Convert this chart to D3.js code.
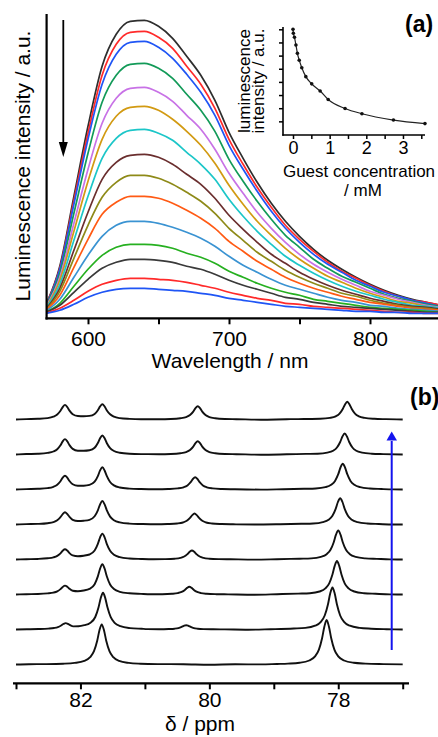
<!DOCTYPE html>
<html>
<head>
<meta charset="utf-8">
<script src="https://cdn.jsdelivr.net/npm/d3@7"></script>
<style>
  html, body { margin: 0; padding: 0; background: #fff; }
  svg { display: block; font-family: "Liberation Sans", Arial, Helvetica, sans-serif; }
</style>
</head>
<body>
<svg id="fig" width="438" height="737"></svg>
<script>
// ---------- (a) luminescence spectra during the guest titration ----------
const wavelengths = [570,580,590,600,610,620,630,640,650,660,670,680,690,700,710,720,730,740,750,760,770,780,790,800,810,820,830,840,850];

const s01 = [13,52,122,192,252,284,297,298,292,280,262,243,218,186,160,136,115,97,82,69,58,49,41,34,28,23,19,16,13];
const s02 = [13,50,118,185,243,274,286,287,281,270,252,234,210,179,154,131,111,93,79,67,56,47,40,33,27,22,18,16,13];
const s03 = [12,49,114,179,234,264,276,277,271,260,244,226,203,173,149,127,107,90,76,64,54,46,38,32,26,22,18,15,12];
const s04 = [12,45,105,165,216,243,254,255,250,240,224,208,187,159,137,117,99,83,71,59,50,42,36,30,24,20,17,14,12];
const s05 = [11,41,95,149,195,220,230,231,226,217,203,189,169,145,125,106,90,76,64,54,46,39,33,27,23,19,16,13,11];
const s06 = [10,38,87,137,179,202,211,212,208,199,187,173,155,133,114,97,83,70,59,50,42,36,30,25,21,17,15,12,10];
const s07 = [10,34,78,122,160,180,188,189,185,178,166,154,139,119,102,87,74,62,53,45,38,32,27,23,19,16,13,12,10];
const s08 = [9,30,68,106,139,156,163,164,161,154,144,134,120,103,89,76,64,55,46,39,33,28,24,20,17,14,12,11,9];
const s09 = [8,27,60,93,121,136,143,143,140,134,126,117,105,90,78,66,57,48,41,35,30,25,22,18,15,13,11,10,8];
const s10 = [8,23,51,79,104,116,122,122,120,115,108,100,90,77,67,57,49,41,35,30,26,22,19,16,14,12,10,9,8];
const s11 = [7,19,41,63,82,93,97,97,95,91,86,80,72,62,53,46,39,33,29,25,21,18,16,13,12,10,9,8,7];
const s12 = [6,15,32,49,63,71,74,74,73,70,65,61,55,47,41,35,30,26,23,19,17,15,13,11,10,9,8,7,6];
const s13 = [6,13,26,39,50,56,59,59,58,56,52,49,44,38,33,29,25,21,19,16,14,12,11,10,9,8,7,6,6];
const s14 = [5,10,18,27,34,38,40,40,39,38,36,33,30,26,23,20,18,15,14,12,11,10,9,8,7,6,6,5,5];
const s15 = [5,8,14,21,26,29,30,30,29,28,27,25,23,20,18,16,14,12,11,10,9,8,7,7,6,6,5,5,5];
const spectra = [s01,s02,s03,s04,s05,s06,s07,s08,s09,s10,s11,s12,s13,s14,s15];

const spectrumColors = ["#2e2e2e","#ff2a2a","#1f55f5","#129a58","#c872e6","#d29a12","#1cc6c8","#6a2e2e",
                        "#8e8a18","#ff5a14","#3a93d2","#26b020","#3a3a3a","#ff2a2a","#1f55f5"];

// inset: luminescence vs. guest concentration
const guestConc      = [0, 0.01, 0.04, 0.08, 0.12, 0.17, 0.24, 0.35, 0.51, 0.74, 0.96, 1.42, 1.88, 2.74, 3.60];
const insetIntensity = [8.0, 7.70, 7.39, 6.81, 6.17, 5.65, 5.08, 4.40, 3.85, 3.31, 2.66, 1.98, 1.58, 1.10, 0.83];

const wavelengthTicks = [600, 650, 700, 750, 800];
const concTicks = [0, 0.5, 1, 1.5, 2, 2.5, 3, 3.5];
const insetYTicks = [1, 2, 3, 4, 5, 6, 7, 8];

// ---------- (b) NMR traces, bottom to top ([ppm, intensity]) ----------
const nmr1 = [[83.00,0],[82.80,0.3],[82.55,0.4],[82.27,0.8],[82.09,1.6],[81.94,3.6],[81.85,7.3],[81.79,13.4],[81.74,23.8],[81.705,34.2],[81.67,40],[81.635,34.2],[81.60,23.8],[81.55,13.4],[81.49,7.3],[81.40,3.6],[81.25,1.6],[81.07,0.8],[80.80,0.4],[80.40,0.3],[80.00,-0.2],[79.60,0.2],[79.20,0.1],[78.95,0.55],[78.78,0.9],[78.60,1.7],[78.45,4.0],[78.36,8.1],[78.30,14.9],[78.25,26.5],[78.215,38.0],[78.18,44.5],[78.145,38.0],[78.11,26.5],[78.06,14.9],[78.00,8.1],[77.91,4.0],[77.76,1.7],[77.58,0.9],[77.30,0.4],[77.00,0.1]];
const nmr2 = [[83.00,0],[82.83,0.2],[82.65,0.45],[82.50,0.9],[82.41,1.5],[82.35,2.4],[82.30,4.0],[82.265,5.5],[82.23,6.4],[82.195,5.7],[82.16,4.3],[82.11,3.1],[82.03,3.2],[81.94,4.3],[81.85,6.5],[81.77,12.5],[81.72,22.0],[81.685,31.5],[81.65,36.8],[81.615,31.4],[81.58,21.9],[81.53,12.3],[81.47,6.7],[81.38,3.3],[81.23,1.4],[81.05,0.7],[80.96,0.4],[80.78,0.3],[80.63,0.5],[80.54,0.8],[80.48,1.4],[80.43,2.6],[80.395,3.7],[80.36,4.3],[80.325,3.7],[80.29,2.6],[80.24,1.4],[80.18,0.8],[80.09,0.4],[79.94,0.2],[79.76,0.1],[79.40,-0.2],[79.05,0.3],[78.69,1.0],[78.51,1.6],[78.36,3.8],[78.27,7.6],[78.21,14.0],[78.16,25.0],[78.125,35.9],[78.09,42],[78.055,35.9],[78.02,25.0],[77.97,14.0],[77.91,7.6],[77.82,3.8],[77.67,1.6],[77.49,0.8],[77.25,0.3],[77.00,0]];
const nmr3 = [[83.00,0],[82.84,0.3],[82.66,0.5],[82.51,1.1],[82.42,1.9],[82.36,3.2],[82.31,5.4],[82.275,7.6],[82.24,8.9],[82.205,7.8],[82.17,5.7],[82.12,3.8],[82.04,3.3],[81.95,4.0],[81.86,5.6],[81.78,10.3],[81.73,18.1],[81.695,25.9],[81.66,30.2],[81.625,25.8],[81.59,18.0],[81.54,10.0],[81.48,5.5],[81.39,2.7],[81.24,1.2],[81.06,0.6],[80.91,0.25],[80.73,0.3],[80.58,0.7],[80.49,1.4],[80.43,2.6],[80.38,4.6],[80.345,6.6],[80.31,7.7],[80.275,6.6],[80.24,4.6],[80.19,2.6],[80.13,1.4],[80.04,0.7],[79.89,0.3],[79.71,0.15],[79.30,-0.2],[78.95,0.3],[78.62,0.9],[78.44,1.3],[78.29,3.0],[78.20,6.1],[78.14,11.2],[78.09,20.0],[78.055,28.6],[78.02,33.5],[77.985,28.6],[77.95,20.0],[77.90,11.2],[77.84,6.1],[77.75,3.0],[77.60,1.3],[77.42,0.7],[77.20,0.1],[77.00,0]];
const nmr4 = [[83.00,0],[82.84,0.3],[82.66,0.55],[82.51,1.2],[82.42,2.1],[82.36,3.6],[82.31,6.2],[82.275,8.8],[82.24,10.2],[82.205,8.9],[82.17,6.4],[82.12,4.1],[82.04,3.3],[81.95,3.8],[81.86,5.0],[81.78,8.9],[81.73,15.6],[81.695,22.2],[81.66,25.9],[81.625,22.1],[81.59,15.4],[81.54,8.7],[81.48,4.7],[81.39,2.3],[81.24,1.0],[81.06,0.5],[80.87,0.2],[80.69,0.35],[80.54,0.8],[80.45,1.6],[80.39,3.0],[80.34,5.4],[80.305,7.7],[80.27,9],[80.235,7.7],[80.20,5.4],[80.15,3.0],[80.09,1.6],[80.00,0.8],[79.85,0.35],[79.67,0.2],[79.30,-0.1],[78.95,0.3],[78.60,0.8],[78.42,1.1],[78.27,2.6],[78.18,5.3],[78.12,9.7],[78.07,17.3],[78.035,24.8],[78.00,29],[77.965,24.8],[77.93,17.3],[77.88,9.7],[77.82,5.3],[77.73,2.6],[77.58,1.1],[77.40,0.6],[77.20,0.1],[77.00,0]];
const nmr5 = [[83.00,0],[82.84,0.35],[82.66,0.6],[82.51,1.3],[82.42,2.4],[82.36,4.3],[82.31,7.4],[82.275,10.4],[82.24,12.2],[82.205,10.5],[82.17,7.6],[82.12,4.7],[82.04,3.5],[81.95,3.8],[81.86,4.7],[81.78,8.2],[81.73,14.2],[81.695,20.2],[81.66,23.5],[81.625,20.1],[81.59,14.1],[81.54,7.9],[81.48,4.3],[81.39,2.1],[81.24,0.9],[81.06,0.5],[80.83,0.2],[80.65,0.45],[80.50,1.0],[80.41,2.0],[80.35,3.7],[80.30,6.6],[80.265,9.4],[80.23,11],[80.195,9.4],[80.16,6.6],[80.11,3.7],[80.05,2.0],[79.96,1.0],[79.81,0.45],[79.63,0.2],[79.30,0],[78.90,0.3],[78.57,0.7],[78.39,1.0],[78.24,2.4],[78.15,4.8],[78.09,8.8],[78.04,15.7],[78.005,22.5],[77.97,26.3],[77.935,22.5],[77.90,15.7],[77.85,8.8],[77.79,4.8],[77.70,2.4],[77.55,1.0],[77.37,0.5],[77.15,0],[77.00,0]];
const nmr6 = [[83.00,0],[82.84,0.4],[82.66,0.7],[82.51,1.4],[82.42,2.7],[82.36,4.8],[82.31,8.3],[82.275,11.8],[82.24,13.7],[82.205,11.9],[82.17,8.5],[82.12,5.2],[82.04,3.7],[81.95,3.8],[81.86,4.6],[81.78,7.8],[81.73,13.4],[81.695,19.1],[81.66,22.3],[81.625,19.0],[81.59,13.3],[81.54,7.5],[81.48,4.1],[81.39,2.0],[81.24,0.9],[81.06,0.45],[80.82,0.25],[80.64,0.5],[80.49,1.1],[80.40,2.2],[80.34,4.1],[80.29,7.3],[80.255,10.5],[80.22,12.3],[80.185,10.5],[80.15,7.3],[80.10,4.1],[80.04,2.2],[79.95,1.1],[79.80,0.5],[79.62,0.25],[79.20,-0.1],[78.85,0.3],[78.53,0.7],[78.35,1.0],[78.20,2.3],[78.11,4.7],[78.05,8.6],[78.00,15.3],[77.965,22.0],[77.93,25.7],[77.895,22.0],[77.86,15.3],[77.81,8.6],[77.75,4.7],[77.66,2.3],[77.51,1.0],[77.33,0.5],[77.15,0.1],[77.00,0]];
const nmr7 = [[83.00,0],[82.84,0.45],[82.66,0.75],[82.51,1.6],[82.42,3.0],[82.36,5.3],[82.31,9.2],[82.275,13.1],[82.24,15.4],[82.205,13.2],[82.17,9.4],[82.12,5.6],[82.04,3.8],[81.95,3.7],[81.86,4.2],[81.78,6.7],[81.73,11.5],[81.695,16.3],[81.66,19.0],[81.625,16.2],[81.59,11.3],[81.54,6.4],[81.48,3.5],[81.39,1.7],[81.24,0.7],[81.06,0.4],[80.78,0.3],[80.60,0.5],[80.45,1.2],[80.36,2.4],[80.30,4.4],[80.25,7.9],[80.215,11.4],[80.18,13.3],[80.145,11.4],[80.11,7.9],[80.06,4.4],[80.00,2.4],[79.91,1.2],[79.76,0.5],[79.58,0.3],[79.20,-0.2],[78.80,0.2],[78.50,0.6],[78.32,0.8],[78.17,1.9],[78.08,3.8],[78.02,7.0],[77.97,12.5],[77.935,18.0],[77.90,21],[77.865,18.0],[77.83,12.5],[77.78,7.0],[77.72,3.8],[77.63,1.9],[77.48,0.8],[77.30,0.4],[77.00,0]];
const nmr8 = [[83.00,0],[82.84,0.4],[82.66,0.7],[82.51,1.4],[82.42,2.8],[82.36,5.0],[82.31,8.7],[82.275,12.4],[82.24,14.6],[82.205,12.5],[82.17,8.9],[82.12,5.3],[82.04,3.5],[81.95,3.3],[81.86,3.6],[81.78,5.5],[81.73,9.3],[81.695,13.1],[81.66,15.3],[81.625,13.0],[81.59,9.1],[81.54,5.2],[81.48,2.8],[81.39,1.35],[81.24,0.6],[81.06,0.3],[80.78,0.3],[80.60,0.5],[80.45,1.2],[80.36,2.4],[80.30,4.4],[80.25,7.9],[80.215,11.4],[80.18,13.3],[80.145,11.4],[80.11,7.9],[80.06,4.4],[80.00,2.4],[79.91,1.2],[79.76,0.5],[79.58,0.3],[79.20,-0.2],[78.80,0.3],[78.46,0.5],[78.28,0.7],[78.13,1.6],[78.04,3.2],[77.98,5.9],[77.93,10.5],[77.895,15.1],[77.86,17.7],[77.825,15.1],[77.79,10.5],[77.74,5.9],[77.68,3.2],[77.59,1.6],[77.44,0.7],[77.26,0.35],[77.00,0]];
const nmrTraces = [nmr1, nmr2, nmr3, nmr4, nmr5, nmr6, nmr7, nmr8];
const traceOffset = 35;               // vertical stacking step, intensity units
const ppmTicks = [83, 82, 81, 80, 79, 78, 77];
const ppmLabels = [82, 80, 78];

const FONT = '"Liberation Sans", Arial, Helvetica, sans-serif';
const svg = d3.select("#fig");

function styleAxis(g, size, width) {
  g.attr("font-family", FONT).attr("font-size", size);
  g.selectAll(".tick line").attr("stroke", "#000").attr("stroke-width", width);
  g.selectAll(".tick text").attr("fill", "#000");
  g.select(".domain").remove();
}

// ===== panel (a) =====
const xW = d3.scaleLinear().domain([570, 850]).range([45.7, 440.5]);
const yI = d3.scaleLinear().domain([0, 304]).range([318.3, 14.3]);

svg.append("clipPath").attr("id", "clipA")
  .append("rect").attr("x", 47).attr("y", 0).attr("width", 400).attr("height", 318);

const spectraG = svg.append("g").attr("clip-path", "url(#clipA)");
const specLine = d3.line()
  .x((d, j) => xW(wavelengths[j]))
  .y(d => yI(d))
  .curve(d3.curveMonotoneX);
spectra.forEach((s, i) => {
  spectraG.append("path").datum(s)
    .attr("d", specLine)
    .attr("fill", "none")
    .attr("stroke", spectrumColors[i])
    .attr("stroke-width", 1.7)
    .attr("stroke-linejoin", "round");
});

const axA = svg.append("g").attr("transform", "translate(0,318.3)")
  .call(d3.axisBottom(xW).tickValues(wavelengthTicks).tickSize(6).tickPadding(7)
        .tickFormat(d => d % 100 === 0 ? d : ""));
styleAxis(axA, 21, 2);
svg.append("line").attr("x1", 45.5).attr("x2", 438).attr("y1", 318.3).attr("y2", 318.3)
  .attr("stroke", "#000").attr("stroke-width", 2.2);
svg.append("line").attr("x1", 46.6).attr("x2", 46.6).attr("y1", 14).attr("y2", 319.4)
  .attr("stroke", "#000").attr("stroke-width", 2.2);

svg.append("text").attr("x", 230).attr("y", 368).attr("text-anchor", "middle")
  .attr("font-family", FONT).attr("font-size", 21).text("Wavelength / nm");
svg.append("text").attr("transform", "translate(29.5,166) rotate(-90)").attr("text-anchor", "middle")
  .attr("font-family", FONT).attr("font-size", 21).text("Luminescence intensity / a.u.");

// decreasing-intensity arrow
svg.append("line").attr("x1", 63.3).attr("x2", 63.3).attr("y1", 20).attr("y2", 144)
  .attr("stroke", "#000").attr("stroke-width", 1.8);
svg.append("path").attr("d", "M58.8,142 L67.8,142 L63.3,157 Z").attr("fill", "#000");

svg.append("text").attr("x", 405).attr("y", 32).attr("font-family", FONT)
  .attr("font-size", 23).attr("font-weight", "bold").text("(a)");

// inset
const xC = d3.scaleLinear().domain([0, 3.5]).range([293, 421.3]);
const yC = d3.scaleLinear().domain([0, 8]).range([134.5, 29.3]);
const axCx = svg.append("g").attr("transform", "translate(0,135)")
  .call(d3.axisBottom(xC).tickValues(concTicks).tickSize(4).tickPadding(2)
        .tickFormat(d => Number.isInteger(d) ? d : ""));
styleAxis(axCx, 18, 1.5);
const axCy = svg.append("g").attr("transform", "translate(283,0)")
  .call(d3.axisLeft(yC).tickValues(insetYTicks).tickSize(4).tickFormat(""));
styleAxis(axCy, 18, 1.5);
svg.append("line").attr("x1", 282.3).attr("x2", 425).attr("y1", 135).attr("y2", 135)
  .attr("stroke", "#000").attr("stroke-width", 1.6);
svg.append("line").attr("x1", 283).attr("x2", 283).attr("y1", 27).attr("y2", 135.7)
  .attr("stroke", "#000").attr("stroke-width", 1.6);

const insetPts = guestConc.map((c, i) => [c, insetIntensity[i]]);
svg.append("path").datum(insetPts)
  .attr("d", d3.line().x(d => xC(d[0])).y(d => yC(d[1])).curve(d3.curveMonotoneX))
  .attr("fill", "none").attr("stroke", "#222").attr("stroke-width", 1.2);
svg.append("g").selectAll("circle").data(insetPts).join("circle")
  .attr("cx", d => xC(d[0])).attr("cy", d => yC(d[1])).attr("r", 1.8).attr("fill", "#111");

svg.append("text").attr("transform", "translate(250,81) rotate(-90)").attr("text-anchor", "middle")
  .attr("font-family", FONT).attr("font-size", 17).text("luminescence");
svg.append("text").attr("transform", "translate(264,81) rotate(-90)").attr("text-anchor", "middle")
  .attr("font-family", FONT).attr("font-size", 17).text("intensity / a.u.");
svg.append("text").attr("x", 359).attr("y", 176.5).attr("text-anchor", "middle")
  .attr("font-family", FONT).attr("font-size", 17).text("Guest concentration");
svg.append("text").attr("x", 363).attr("y", 196).attr("text-anchor", "middle")
  .attr("font-family", FONT).attr("font-size", 17).text("/ mM");

// ===== panel (b) =====
const xP = d3.scaleLinear().domain([83, 77]).range([16, 402.7]);
const yP = d3.scaleLinear().domain([0, 280]).range([664.5, 384.5]);

nmrTraces.forEach((tr, k) => {
  svg.append("path").datum(tr)
    .attr("d", d3.line().x(d => xP(d[0])).y(d => yP(k * traceOffset + d[1])).curve(d3.curveMonotoneX))
    .attr("fill", "none").attr("stroke", "#111").attr("stroke-width", 1.9)
    .attr("stroke-linejoin", "round");
});

const axB = svg.append("g").attr("transform", "translate(0,683.3)")
  .call(d3.axisBottom(xP).tickValues(ppmTicks).tickSize(6).tickPadding(3)
        .tickFormat(d => ppmLabels.includes(d) ? d : ""));
styleAxis(axB, 21, 2);
svg.append("line").attr("x1", 13).attr("x2", 409).attr("y1", 683.3).attr("y2", 683.3)
  .attr("stroke", "#000").attr("stroke-width", 2.2);
svg.append("text").attr("x", 165).attr("y", 731).attr("font-family", FONT)
  .attr("font-size", 21).text("δ / ppm");

// titration direction arrow
svg.append("line").attr("x1", 391.7).attr("x2", 391.7).attr("y1", 650).attr("y2", 441)
  .attr("stroke", "#1414ee").attr("stroke-width", 2);
svg.append("path").attr("d", "M386.5,440.5 L397,440.5 L391.7,431.5 Z").attr("fill", "#1414ee");

svg.append("text").attr("x", 410).attr("y", 405).attr("font-family", FONT)
  .attr("font-size", 23).attr("font-weight", "bold").text("(b)");
</script>
</body>
</html>
